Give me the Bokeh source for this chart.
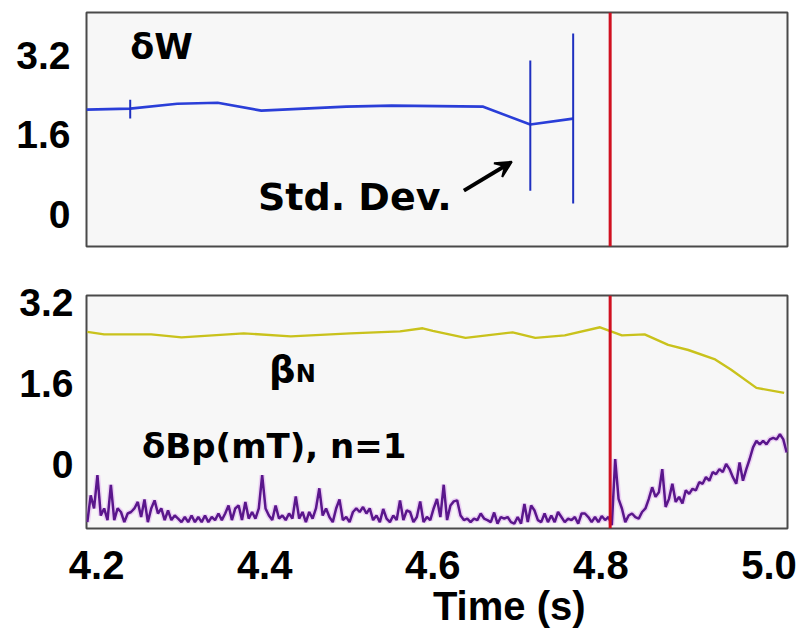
from bokeh.plotting import figure
from bokeh.layouts import column
from bokeh.models import Range1d, FixedTicker, Span, Label, Arrow, VeeHead, ColumnDataSource
from bokeh.embed import file_html
from bokeh.resources import INLINE

# ---------------- data ----------------
# delta W (top panel)
dw_time = [4.188, 4.240, 4.296, 4.344, 4.396, 4.497, 4.551, 4.660, 4.716, 4.767]
dw_value = [2.11, 2.13, 2.23, 2.25, 2.09, 2.17, 2.19, 2.17, 1.81, 1.93]
err_time = [4.240, 4.716, 4.767]
err_center = [2.12, 1.79, 1.93]
err_sd = [0.19, 1.31, 1.71]

# beta_N (bottom panel)
beta_time = [4.189, 4.209, 4.265, 4.301, 4.375, 4.431, 4.502, 4.561, 4.588, 4.600,
             4.639, 4.695, 4.722, 4.757, 4.799, 4.825, 4.852, 4.880, 4.904, 4.935,
             4.955, 4.985, 5.018]
beta_value = [2.62, 2.57, 2.57, 2.51, 2.59, 2.53, 2.59, 2.63, 2.69, 2.64,
              2.50, 2.61, 2.50, 2.55, 2.71, 2.55, 2.57, 2.36, 2.26, 2.08,
              1.87, 1.51, 1.41]

# delta Bp n=1 (bottom panel), sampled every dbp_dt seconds from dbp_t0
dbp_t0 = 4.189
dbp_dt = 0.004
dbp_value = [
    -1.15, -0.62, -0.88, -0.22, -1.02, -0.88, -1.11, -0.41, -1.11, -0.88,
    -0.95, -1.15, -0.98, -0.95, -0.88, -0.75, -1.05, -0.70, -1.15, -0.88,
    -0.72, -0.98, -0.88, -1.11, -0.92, -1.11, -1.02, -1.08, -1.15, -1.05,
    -1.15, -1.02, -1.15, -1.05, -1.15, -1.02, -1.15, -1.05, -1.11, -0.98,
    -1.11, -0.98, -0.82, -1.11, -0.88, -0.82, -1.11, -0.75, -1.08, -0.95,
    -1.08, -0.88,
    -0.22, -0.88, -1.02, -1.11, -0.82, -1.08, -1.02, -1.11, -0.98, -1.08,
    -0.64, -1.08, -0.95, -1.15, -0.95, -1.08, -0.88, -0.48, -1.02, -0.88,
    -1.05, -1.15, -0.88, -0.70, -1.11, -1.05, -1.15, -0.95, -0.88, -0.95,
    -0.85, -0.98, -0.88, -1.11, -1.02, -1.15, -0.89, -1.08, -1.15, -1.02,
    -1.11, -0.72, -1.11, -0.92, -0.95, -1.15, -1.05, -0.74, -1.15, -1.05,
    -1.11, -0.88,
    -0.69, -1.05, -0.41, -1.11, -0.82, -0.74, -0.72, -1.02, -1.11, -1.08,
    -1.15, -1.08, -1.11, -0.98, -1.08, -1.11, -1.15, -0.96, -1.18, -1.05,
    -1.08, -1.05, -1.15, -1.18, -1.05, -1.18, -0.79, -1.15, -0.82, -0.92,
    -1.11, -1.15, -0.98, -1.15, -1.02, -1.15, -0.95, -1.05, -1.15, -1.08,
    -1.11, -1.05, -1.18, -0.98, -0.98, -1.05, -1.15, -1.05, -1.15, -1.03,
    -1.11, -1.05,
    -1.21, 0.10, -0.69, -0.88, -1.15, -1.02, -0.98, -1.05, -1.08, -0.95,
    -0.88, -0.69, -0.46, -0.65, -0.56, -0.10, -0.85, -0.69, -0.39, -0.75,
    -0.65, -0.78, -0.52, -0.59, -0.49, -0.52, -0.36, -0.39, -0.26, -0.33,
    -0.16, -0.20, -0.10, -0.16, 0.00, -0.10, -0.26, -0.39, 0.03, -0.33,
    -0.10, 0.10, 0.33, 0.46, 0.39, 0.46, 0.39, 0.49, 0.52, 0.49,
    0.59, 0.49, 0.23,
]
dbp_time = [round(dbp_t0 + k * dbp_dt, 4) for k in range(len(dbp_value))]

event_time = 4.811

x_ticks = [4.2, 4.4, 4.6, 4.8, 5.0]
x_tick_labels = ["4.2", "4.4", "4.6", "4.8", "5.0"]
x_title = "Time (s)"
y_ticks = [0, 1.6, 3.2]
y_tick_labels = ["0", "1.6", "3.2"]

# ---------------- styling ----------------
TICK_FONT = "Liberation Sans"
ANN_FONT = "DejaVu Sans"
BG = "#f7f7f7"
FRAME = "#4a4a4a"
RED = "#d01020"


def style(p, standoff):
    p.grid.visible = False
    p.outline_line_color = FRAME
    p.outline_line_width = 2
    p.background_fill_color = BG
    p.border_fill_color = "white"
    p.yaxis.ticker = FixedTicker(ticks=y_ticks)
    p.yaxis.major_label_overrides = {t: l for t, l in zip(y_ticks, y_tick_labels)}
    p.yaxis.axis_line_color = None
    p.yaxis.major_tick_line_color = None
    p.yaxis.minor_tick_line_color = None
    p.yaxis.major_label_standoff = standoff
    p.yaxis.major_label_text_font = TICK_FONT
    p.yaxis.major_label_text_font_style = "bold"
    p.yaxis.major_label_text_font_size = "39px"
    p.yaxis.major_label_text_color = "black"


def label(p, x, y, text, size, align="left"):
    p.add_layout(Label(x=x, y=y, text=text, text_font=ANN_FONT,
                       text_font_style="bold", text_font_size=size,
                       text_align=align, text_baseline="alphabetic",
                       text_color="black"))


x_lo, x_hi = 4.188, 5.022

# ---------------- top panel ----------------
top = figure(width=809, height=270, output_backend="svg", toolbar_location=None,
             x_range=Range1d(x_lo, x_hi), y_range=Range1d(-0.644, 4.065),
             min_border_left=86, min_border_right=19, min_border_top=12,
             min_border_bottom=24)
style(top, 10)
top.xaxis.visible = False

top.line(dw_time, dw_value, line_color="#2a3ed8", line_width=2.6)
err_src = ColumnDataSource(dict(
    t=err_time,
    lo=[c - s for c, s in zip(err_center, err_sd)],
    hi=[c + s for c, s in zip(err_center, err_sd)],
))
top.segment(x0="t", y0="lo", x1="t", y1="hi", source=err_src,
            line_color="#1f30c0", line_width=2)
top.add_layout(Span(location=event_time, dimension="height",
                    line_color=RED, line_width=3))
label(top, 4.240, 3.38, "δW", "35px")
label(top, 4.392, 0.36, "Std. Dev.", "38px")
top.add_layout(Arrow(end=VeeHead(size=16, line_color="black", fill_color="black",
                                 line_width=2),
                     x_start=4.637, y_start=0.48, x_end=4.694, y_end=1.06,
                     line_color="black", line_width=4))

# ---------------- bottom panel ----------------
bot = figure(width=809, height=360, output_backend="svg", toolbar_location=None,
             x_range=Range1d(x_lo, x_hi), y_range=Range1d(-1.277, 3.34),
             min_border_left=82, min_border_right=22, min_border_top=25,
             min_border_bottom=100)
style(bot, 7)
bot.xaxis.ticker = FixedTicker(ticks=x_ticks)
bot.xaxis.major_label_overrides = {t: l for t, l in zip(x_ticks, x_tick_labels)}
bot.xaxis.axis_line_color = None
bot.xaxis.major_tick_line_color = None
bot.xaxis.minor_tick_line_color = None
bot.xaxis.major_label_standoff = 16
bot.xaxis.major_label_text_font = TICK_FONT
bot.xaxis.major_label_text_font_style = "bold"
bot.xaxis.major_label_text_font_size = "40px"
bot.xaxis.major_label_text_color = "black"
# non-breaking spaces shift the centred title to the right, as in the source
bot.xaxis.axis_label = "\u00a0" * 13 + x_title
bot.xaxis.axis_label_text_font = TICK_FONT
bot.xaxis.axis_label_text_font_style = "bold"
bot.xaxis.axis_label_text_font_size = "40px"
bot.xaxis.axis_label_text_color = "black"
bot.xaxis.axis_label_standoff = 2

bot.line(dbp_time, dbp_value, line_color="#e3b8f0", line_width=5.5, line_alpha=0.6)
bot.line(dbp_time, dbp_value, line_color="#5a168c", line_width=2.5)
bot.line(beta_time, beta_value, line_color="#c9c21c", line_width=2.4)
bot.add_layout(Span(location=event_time, dimension="height",
                    line_color=RED, line_width=3))
label(bot, 4.405, 1.88, "β", "37px")
label(bot, 4.437, 1.78, "N", "24px")
label(bot, 4.254, 0.36, "δBp(mT), n=1", "34px")

layout = column(top, bot, spacing=0)
open("out.html", "w").write(file_html(layout, INLINE))
